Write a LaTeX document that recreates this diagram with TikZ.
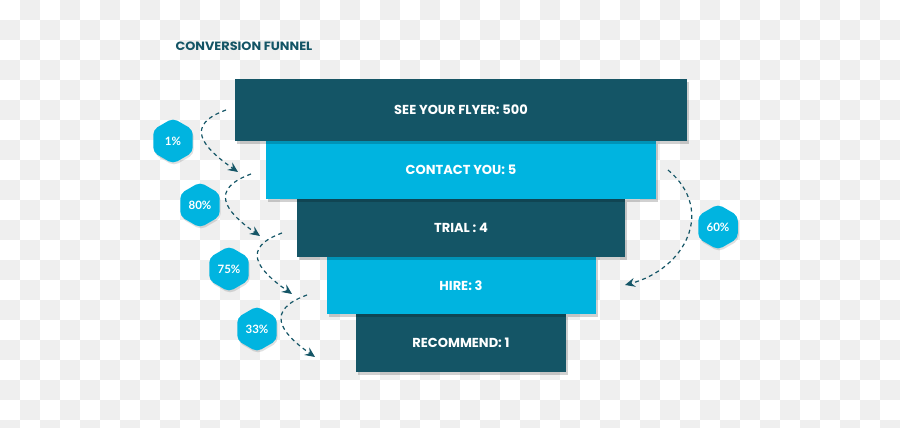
\documentclass[tikz,border=0pt]{standalone}
\usepackage{fontspec}
\newfontfamily\popp{Poppins}
\newfontfamily\poppwide{Poppins}[FakeStretch=1.07]
\newfontfamily\lato{Lato}
\usetikzlibrary{arrows.meta,positioning,shapes.geometric,shadows}
\definecolor{fundark}{HTML}{145566}
\definecolor{funcyan}{HTML}{00B4E0}
\definecolor{chk}{HTML}{EFEFEF}
\tikzset{
  stage/.style={rectangle, align=center, minimum height=58pt, inner sep=0pt, outer sep=0pt, text=white,
    font=\popp\bfseries\fontsize{13pt}{15pt}\selectfont,
    drop shadow={shadow xshift=2pt, shadow yshift=-3pt, opacity=0.18, fill=black}},
  dark/.style={stage, fill=fundark},
  light/.style={stage, fill=funcyan},
  hex/.style={regular polygon, regular polygon sides=6, shape border rotate=30, minimum size=45.6pt,
    inner sep=0pt, rounded corners=5pt, fill=funcyan, text=white,
    font=\lato\bfseries\fontsize{11.5pt}{13pt}\selectfont,
    drop shadow={shadow xshift=1pt, shadow yshift=-2pt, opacity=0.12, fill=black}},
  arr/.style={-{Stealth[length=10pt, width=9pt, inset=3.5pt]}, draw=fundark, line width=1.2pt,
    dash pattern=on 4pt off 3.5pt},
  ttl/.style={font=\poppwide\bfseries\fontsize{12pt}{14pt}\selectfont, text=fundark}
}

\begin{document}
\begin{tikzpicture}[x=1pt, y=1pt]
  \useasboundingbox (0,0) rectangle (900,428);
  % checkerboard backdrop
  \begin{scope}
    \clip (0,0) rectangle (900,428);
    \foreach \r in {0,...,21}
      \foreach \c in {0,...,44}{\ifodd\numexpr\r+\c\relax \fill[chk] ({20*\c},{428-20*\r}) rectangle ++(20,-20);\fi}
  \end{scope}

  \node[ttl, anchor=west] (title) at (172,382) {CONVERSION FUNNEL};

  % funnel, stacked bottom-up so shadows fall on the lower step
  \node[dark, minimum width=210pt] (rec) at (461,85) {RECOMMEND: 1};
  \node[light, minimum width=269pt, minimum height=57pt, above=0pt of rec] (hire) {HIRE: 3};
  \node[dark, minimum width=328pt, above=0pt of hire] (trial) {TRIAL : 4};
  \node[light, minimum width=390pt, above=0pt of trial] (contact) {CONTACT YOU: 5};
  \node[dark, minimum width=452pt, minimum height=62pt, above=0pt of contact] (see) {SEE YOUR FLYER: 500};

  % rates
  \node[hex] (p1) at (173,287) {1\%};
  \node[hex] (p2) at (200,223) {80\%};
  \node[hex] (p3) at (229,159) {75\%};
  \node[hex] (p4) at (257,99) {33\%};
  \node[hex] (p5) at (718,201) {60\%};

  \coordinate (a1s) at (226,318); \coordinate (a1e) at (238,256);
  \coordinate (a2s) at (251,254); \coordinate (a2e) at (260,192);
  \coordinate (a3s) at (282,195); \coordinate (a3e) at (292,134);
  \coordinate (a4s) at (307,133); \coordinate (a4e) at (315,71);
  \coordinate (a5s) at (668,258); \coordinate (a5e) at (625,143);
  \draw[arr] (a1s) to[out=200, in=145, looseness=1.8] (a1e);
  \draw[arr] (a2s) to[out=200, in=145, looseness=1.8] (a2e);
  \draw[arr] (a3s) to[out=200, in=145, looseness=1.8] (a3e);
  \draw[arr] (a4s) to[out=200, in=145, looseness=1.8] (a4e);
  \draw[arr] (a5s) to[out=-40, in=15, looseness=1.3] (a5e);
\end{tikzpicture}
\end{document}
